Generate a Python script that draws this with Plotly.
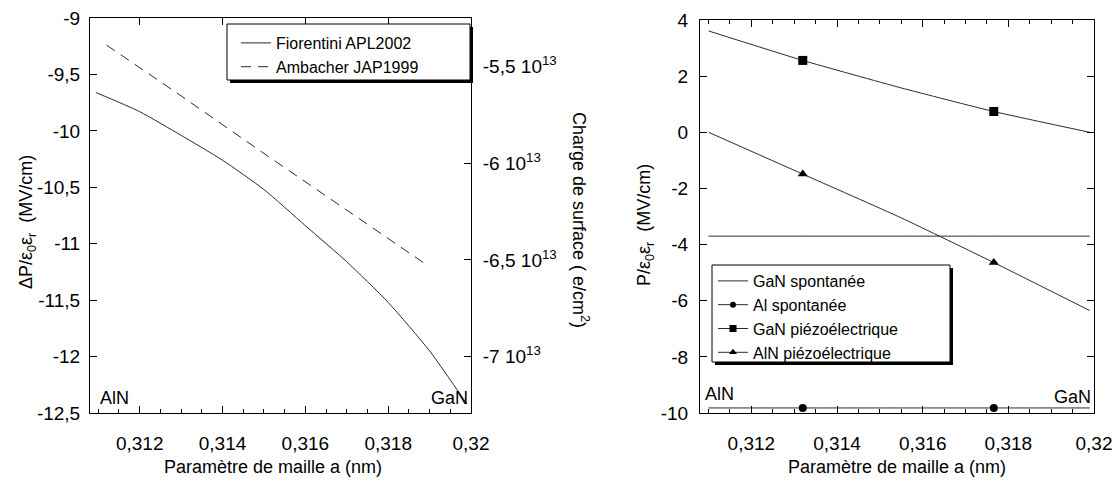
import plotly.graph_objects as go

W, H = 1115, 482

# ---------------- data ----------------
# Left panel: polarisation discontinuity vs lattice parameter
a_fiorentini = [0.31094, 0.3120, 0.3130, 0.3140, 0.3150, 0.3160, 0.3170, 0.3180, 0.3190, 0.3199]
dp_fiorentini = [-9.66, -9.83, -10.04, -10.26, -10.52, -10.84, -11.16, -11.52, -11.95, -12.42]
a_ambacher = [0.3112, 0.3130, 0.3150, 0.3170, 0.3189]
dp_ambacher = [-9.24, -9.69, -10.20, -10.70, -11.18]

# secondary axis (surface charge, units of 1e13 e/cm2)
charge_ticks = [-5.5, -6.0, -6.5, -7.0]
charge_labels = ["-5,5 10<sup>13</sup>", "-6 10<sup>13</sup>", "-6,5 10<sup>13</sup>", "-7 10<sup>13</sup>"]
charge_per_mvcm = 0.5833  # 1e13 e/cm2 per MV/cm

left_yticks = [-9, -9.5, -10, -10.5, -11, -11.5, -12, -12.5]
left_yticktext = ["-9", "-9,5", "-10", "-10,5", "-11", "-11,5", "-12", "-12,5"]

x_ticks = [0.312, 0.314, 0.316, 0.318, 0.32]
x_ticktext = ["0,312", "0,314", "0,316", "0,318", "0,32"]

# Right panel: polarisation components
a_right = [0.3110, 0.3132, 0.3155, 0.31766, 0.3199]
p_gan_spont = [-3.70, -3.70, -3.70, -3.70, -3.70]
p_al_spont = [-9.82, -9.82, -9.82, -9.82, -9.82]
p_gan_piezo = [3.61, 2.56, 1.58, 0.74, 0.0]
p_aln_piezo = [0.0, -1.49, -3.05, -4.64, -6.35]
marker_idx = [1, 3]

right_yticks = [4, 2, 0, -2, -4, -6, -8, -10]
right_yticktext = ["4", "2", "0", "-2", "-4", "-6", "-8", "-10"]

# ---------------- helpers (layout only) ----------------
def px(x):
    return x / W

def py(y):
    return 1 - y / H

LINE = "#2b2b2b"
FONT = "Liberation Sans, Arial, sans-serif"

fig = go.Figure()

# Left panel
fig.add_trace(go.Scatter(x=a_fiorentini, y=dp_fiorentini, mode="lines", name="Fiorentini APL2002",
                         line=dict(color=LINE, width=1, shape="spline", smoothing=0.6),
                         xaxis="x", yaxis="y", legend="legend"))
fig.add_trace(go.Scatter(x=a_ambacher, y=dp_ambacher, mode="lines", name="Ambacher JAP1999",
                         line=dict(color=LINE, width=1, dash="10px,7px"), xaxis="x", yaxis="y",
                         legend="legend"))
# charge axis carrier (same curve expressed in surface charge, invisible)
fig.add_trace(go.Scatter(x=a_fiorentini, y=[v * charge_per_mvcm for v in dp_fiorentini], mode="lines",
                         line=dict(width=0), opacity=0, showlegend=False, hoverinfo="skip",
                         xaxis="x", yaxis="y2"))
fig.add_trace(go.Scatter(x=a_fiorentini, y=dp_fiorentini, mode="lines", line=dict(width=0), opacity=0,
                         showlegend=False, hoverinfo="skip", xaxis="x3", yaxis="y"))

# Right panel
right_series = [
    ("GaN spontanée", p_gan_spont, None, 0),
    ("Al spontanée", p_al_spont, "circle", 8),
    ("GaN piézoélectrique", p_gan_piezo, "square", 9),
    ("AlN piézoélectrique", p_aln_piezo, "triangle-up", 9),
]
for name, vals, sym, size in right_series:
    fig.add_trace(go.Scatter(x=a_right, y=vals, mode="lines",
                             line=dict(color=LINE, width=1, shape="spline", smoothing=0.5),
                             showlegend=False, xaxis="x2", yaxis="y3"))
    if sym:
        fig.add_trace(go.Scatter(x=[a_right[i] for i in marker_idx], y=[vals[i] for i in marker_idx],
                                 mode="markers", marker=dict(symbol=sym, size=size, color="black"),
                                 showlegend=False, xaxis="x2", yaxis="y3"))
    fig.add_trace(go.Scatter(x=[None], y=[None], name=name,
                             mode="lines+markers" if sym else "lines",
                             line=dict(color=LINE, width=1),
                             marker=dict(symbol=sym or "circle", size=size - 2 if sym else 1, color="black"),
                             xaxis="x2", yaxis="y3", legend="legend2"))

tickfont = dict(family=FONT, size=19, color="black")
common_x = dict(range=[0.3108, 0.32], tickmode="array", tickvals=x_ticks, ticktext=x_ticktext,
                ticks="inside", ticklen=7, tickcolor="black", showline=True, linecolor="black",
                linewidth=1, showgrid=False, zeroline=False, tickfont=tickfont, ticklabelstandoff=13,
                automargin=False, ticklabeloverflow="allow",
                minor=dict(tickmode="linear", tick0=0.312, dtick=0.0005, ticks="inside", ticklen=4,
                           tickcolor="black"))
common_y = dict(tickmode="array", ticks="inside", ticklen=7, tickcolor="black", showline=True,
                linecolor="black", linewidth=1, showgrid=False, zeroline=False, tickfont=tickfont,
                automargin=False, ticklabeloverflow="allow")

fig.update_layout(
    template="none",
    width=W, height=H, autosize=False,
    margin=dict(l=0, r=0, t=0, b=0, pad=0, autoexpand=False),
    paper_bgcolor="white", plot_bgcolor="white",
    font=dict(family=FONT, size=18, color="black"),
    xaxis=dict(domain=[px(90), px(471)], anchor="y", mirror=True, **common_x),
    xaxis3=dict(domain=[px(90), px(471)], anchor="y", overlaying="x", side="top",
                range=[0.3108, 0.32], tickmode="array", tickvals=x_ticks, ticks="inside", ticklen=7,
                tickcolor="black", showticklabels=False, showline=False, showgrid=False, zeroline=False,
                automargin=False),
    yaxis=dict(domain=[py(413), py(18)], anchor="x", range=[-12.5, -9], tickvals=left_yticks,
               ticktext=left_yticktext, mirror=True, ticklabelstandoff=5, **common_y),
    yaxis2=dict(overlaying="y", side="right", anchor="x",
                range=[-12.5 * charge_per_mvcm, -9 * charge_per_mvcm],
                tickvals=charge_ticks, ticktext=charge_labels, ticklabelstandoff=7, **common_y),
    xaxis2=dict(domain=[px(700), px(1094)], anchor="y3", mirror="ticks", **common_x),
    yaxis3=dict(domain=[py(413), py(20)], anchor="x2", range=[-10, 4], tickvals=right_yticks,
                ticktext=right_yticktext, mirror="ticks", ticklabelstandoff=7, **common_y),
    legend=dict(x=px(236), y=py(26), xanchor="left", yanchor="top", bgcolor="rgba(0,0,0,0)",
                borderwidth=0, font=dict(family=FONT, size=16), tracegroupgap=0, itemwidth=30),
    legend2=dict(x=px(713), y=py(264), xanchor="left", yanchor="top", bgcolor="rgba(0,0,0,0)",
                 borderwidth=0, font=dict(family=FONT, size=16), tracegroupgap=0, itemwidth=30),
    showlegend=True,
)

# legend boxes with drop shadow (as in the original)
boxes = [(227, 24, 470, 80), (712, 265, 950, 362)]
for x0, y0, x1, y1 in boxes:
    fig.add_shape(type="rect", xref="paper", yref="paper", x0=px(x0 + 3), y0=py(y1 + 3), x1=px(x1 + 3),
                  y1=py(y0 + 3), fillcolor="black", line=dict(width=0), layer="above")
    fig.add_shape(type="rect", xref="paper", yref="paper", x0=px(x0), y0=py(y1), x1=px(x1), y1=py(y0),
                  fillcolor="white", line=dict(color="black", width=1), layer="above")

ann = dict(xref="paper", yref="paper", showarrow=False, font=dict(family=FONT, size=18, color="black"))
fig.add_annotation(x=px(98), y=py(398), text="AlN", xanchor="left", yanchor="middle", **ann)
fig.add_annotation(x=px(470), y=py(398), text="GaN", xanchor="right", yanchor="middle", **ann)
fig.add_annotation(x=px(703), y=py(394), text="AlN", xanchor="left", yanchor="middle", **ann)
fig.add_annotation(x=px(1093), y=py(397), text="GaN", xanchor="right", yanchor="middle", **ann)
fig.add_annotation(x=px(273), y=py(467), text="Paramètre de maille a (nm)", xanchor="center",
                   yanchor="middle", **ann)
fig.add_annotation(x=px(897), y=py(467), text="Paramètre de maille a (nm)", xanchor="center",
                   yanchor="middle", **ann)
fig.add_annotation(x=px(28), y=py(222), text="ΔP/ε<sub>0</sub>ε<sub>r</sub>\u00a0 (MV/cm)",
                   textangle=-90, xanchor="center", yanchor="middle", **ann)
fig.add_annotation(x=px(645), y=py(225), text="P/ε<sub>0</sub>ε<sub>r</sub>\u00a0 (MV/cm)",
                   textangle=-90, xanchor="center", yanchor="middle", **ann)
fig.add_annotation(x=px(580), y=py(220), text="Charge de surface ( e/cm<sup>2</sup>)",
                   textangle=90, xanchor="center", yanchor="middle", **ann)

# place the figure at the top-left corner of the page (no default body margin / scrollbars)
page_css = ("document.documentElement.style.margin='0';document.body.style.margin='0';"
            "document.body.style.overflow='hidden';")
fig.write_html("out.html", post_script=page_css, config={"displayModeBar": False})
